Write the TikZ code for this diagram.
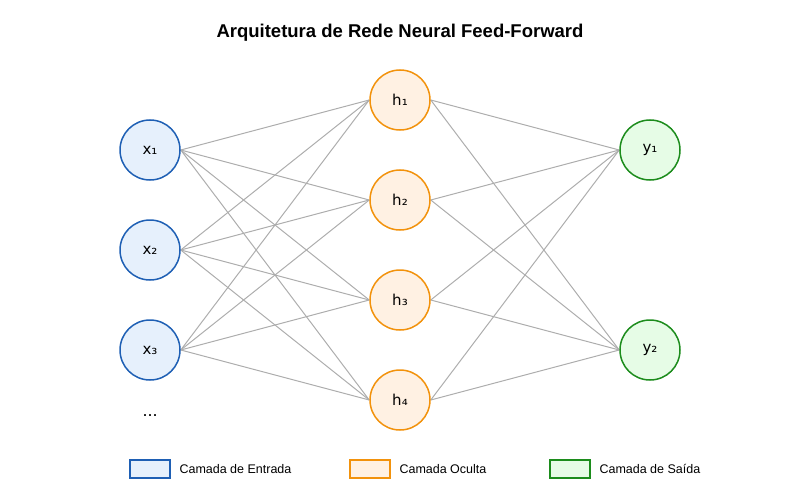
\documentclass[tikz,border=0pt]{standalone}
\usepackage{fontspec}
\setmainfont{Liberation Sans}
\newfontfamily\dv{DejaVu Sans}
\usetikzlibrary{backgrounds}
\definecolor{inS}{HTML}{1E5FB4}\definecolor{inF}{HTML}{E6F0FC}
\definecolor{hS}{HTML}{F2920C}\definecolor{hF}{HTML}{FFF1E3}
\definecolor{oS}{HTML}{1C8C1C}\definecolor{oF}{HTML}{E6FCE6}
\begin{document}
\begin{tikzpicture}[x=1pt,y=-1pt,
 neu/.style={circle,minimum size=60pt,inner sep=0pt,line width=1.5pt,font=\dv\fontsize{15}{17}\selectfont},
 inn/.style={neu,draw=inS,fill=inF},
 hid/.style={neu,draw=hS,fill=hF},
 outn/.style={neu,draw=oS,fill=oF},
 edge/.style={draw=black!32,line width=1pt},
 leg/.style={minimum width=40pt,minimum height=18pt,inner sep=0pt,line width=1.5pt},
 legt/.style={anchor=west,font=\fontsize{12.5}{14}\selectfont}]
\useasboundingbox (0,0) rectangle (800,500);
\node[font=\bfseries\fontsize{18.5}{21}\selectfont] (t) at (400,33) {Arquitetura de Rede Neural Feed-Forward};
\node[inn] (x1) at (150,150) {x₁};
\node[inn] (x2) at (150,250) {x₂};
\node[inn] (x3) at (150,350) {x₃};
\node[hid] (h1) at (400,100) {h₁};
\node[hid] (h2) at (400,200) {h₂};
\node[hid] (h3) at (400,300) {h₃};
\node[hid] (h4) at (400,400) {h₄};
\node[outn] (y1) at (650,150) {y₁};
\node[outn] (y2) at (650,350) {y₂};
\node[font=\fontsize{18}{20}\selectfont] (dots) at (150,416) {...};
\begin{scope}[on background layer]
\foreach \a in {x1,x2,x3}{\foreach \b in {h1,h2,h3,h4}{\draw[edge] (\a.east) -- (\b.west);}}
\foreach \a in {h1,h2,h3,h4}{\foreach \b in {y1,y2}{\draw[edge] (\a.east) -- (\b.west);}}
\end{scope}
\node[leg,draw=inS,fill=inF] (l1) at (150,469) {};
\node[legt] (l1t) at (176,469) {Camada de Entrada};
\node[leg,draw=hS,fill=hF] (l2) at (370,469) {};
\node[legt] (l2t) at (396,469) {Camada Oculta};
\node[leg,draw=oS,fill=oF] (l3) at (570,469) {};
\node[legt] (l3t) at (596,469) {Camada de Saída};
\end{tikzpicture}
\end{document}
